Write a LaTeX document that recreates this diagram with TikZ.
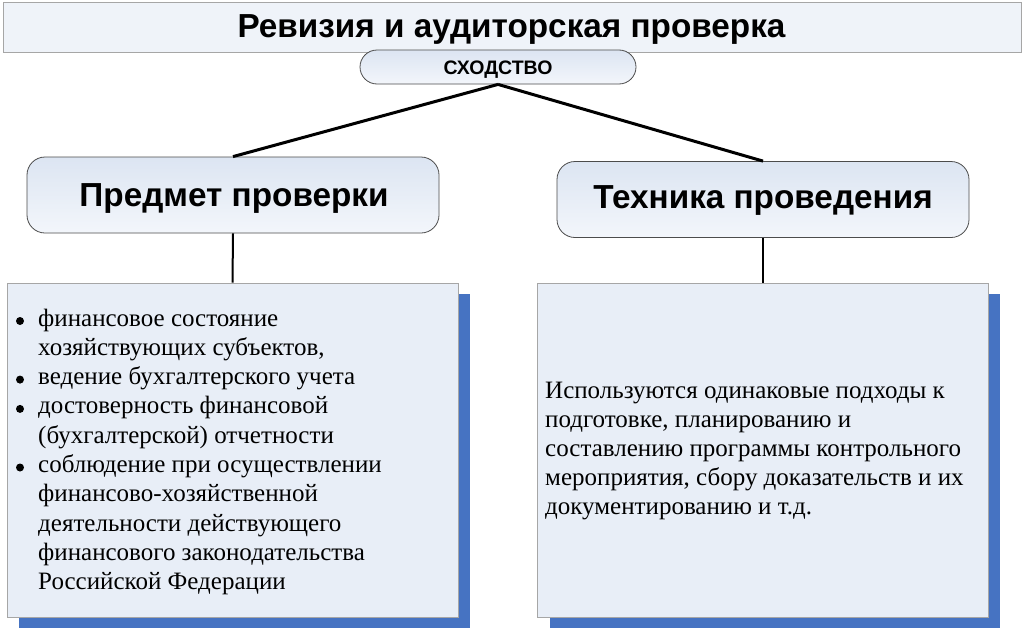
\documentclass[tikz,border=0pt]{standalone}
\usepackage{fontspec}
\setmainfont{Liberation Serif}
\newfontfamily\headfont{Liberation Sans}
\definecolor{shadowblue}{HTML}{4673C2}
\definecolor{boxfill}{HTML}{E8EEF7}
\definecolor{boxline}{HTML}{A6A6A6}
\definecolor{headtop}{HTML}{DCE5F2}
\definecolor{headbot}{HTML}{F3F6FB}
\definecolor{titlefill}{HTML}{EFF3F9}
\tikzset{
  titlebox/.style={draw=boxline, fill=titlefill, line width=0.8pt, minimum width=1018pt, minimum height=50pt, inner sep=0pt},
  bigtext/.style={anchor=base, inner sep=0pt, font=\headfont\bfseries\fontsize{33.3}{36}\selectfont},
  pillbox/.style={draw=black!70, line width=0.8pt, top color=headtop, bottom color=headbot, rounded corners=17pt,
    minimum width=276pt, minimum height=34pt, inner sep=0pt, text height=14pt, text depth=0pt,
    font=\headfont\bfseries\fontsize{19.5}{21}\selectfont},
  headbox/.style={draw=black!70, line width=0.8pt, top color=headtop, bottom color=headbot, rounded corners=18pt,
    minimum width=412pt, minimum height=76pt, inner sep=0pt},
  contentbox/.style={draw=boxline, fill=boxfill, line width=0.8pt, minimum width=451pt, minimum height=334pt, inner sep=0pt},
  link/.style={draw=black, line width=3pt},
  stem/.style={draw=black, line width=2pt},
  txt/.style={anchor=base west, inner sep=0pt, font=\fontsize{25}{29}\selectfont},
  bul/.style={circle, fill=black, inner sep=0pt, minimum size=8pt},
}
\begin{document}
\begin{tikzpicture}[x=1pt,y=-1pt]
\useasboundingbox (0,0) rectangle (1024,629);
\fill[white] (0,0) rectangle (1024,629);
% title
\node[titlebox] (title) at (512,27.5) {};
\node[bigtext] (titletext) at (511.5,37) {Ревизия и аудиторская проверка};
% shadows and content boxes
\fill[shadowblue] (19,294) rectangle (470,628);
\node[contentbox] (lc) at (232.5,450) {};
\fill[shadowblue] (550,294) rectangle (1000,628);
\node[contentbox] (rc) at (763,450) {};
% heading boxes
\node[headbox] (lh) at (233,195) {};
\node[bigtext] (lhtext) at (234,206) {Предмет проверки};
\node[headbox] (rh) at (763,199.5) {};
\node[bigtext] (rhtext) at (763,208) {Техника проведения};
% pill
\node[pillbox] (pill) at (498,67) {СХОДСТВО};
% connectors
\draw[link] (pill.south) -- (lh.north);
\draw[link] (pill.south) -- (rh.north);
\draw[stem] (lh.south) -- (lc.north);
\draw[stem] (rh.south) -- (rc.north);
% left list
\node[bul] (b1) at (20,321) {};
\node[bul] (b2) at (20,379.6) {};
\node[bul] (b3) at (20,408.9) {};
\node[bul] (b4) at (20,467.5) {};
\foreach \t [count=\i] in {финансовое состояние,{хозяйствующих субъектов,},ведение бухгалтерского учета,достоверность финансовой,(бухгалтерской) отчетности,соблюдение при осуществлении,финансово-хозяйственной,деятельности действующего,финансового законодательства,Российской Федерации}
  \node[txt] (l\i) at (38,{326+29.3*(\i-1)}) {\t};
% right text
\foreach \t [count=\i] in {Используются одинаковые подходы к,{подготовке, планированию и},составлению программы контрольного,{мероприятия, сбору доказательств и их},документированию и т.д.}
  \node[txt] (r\i) at (545,{398+29*(\i-1)}) {\t};
\end{tikzpicture}
\end{document}
